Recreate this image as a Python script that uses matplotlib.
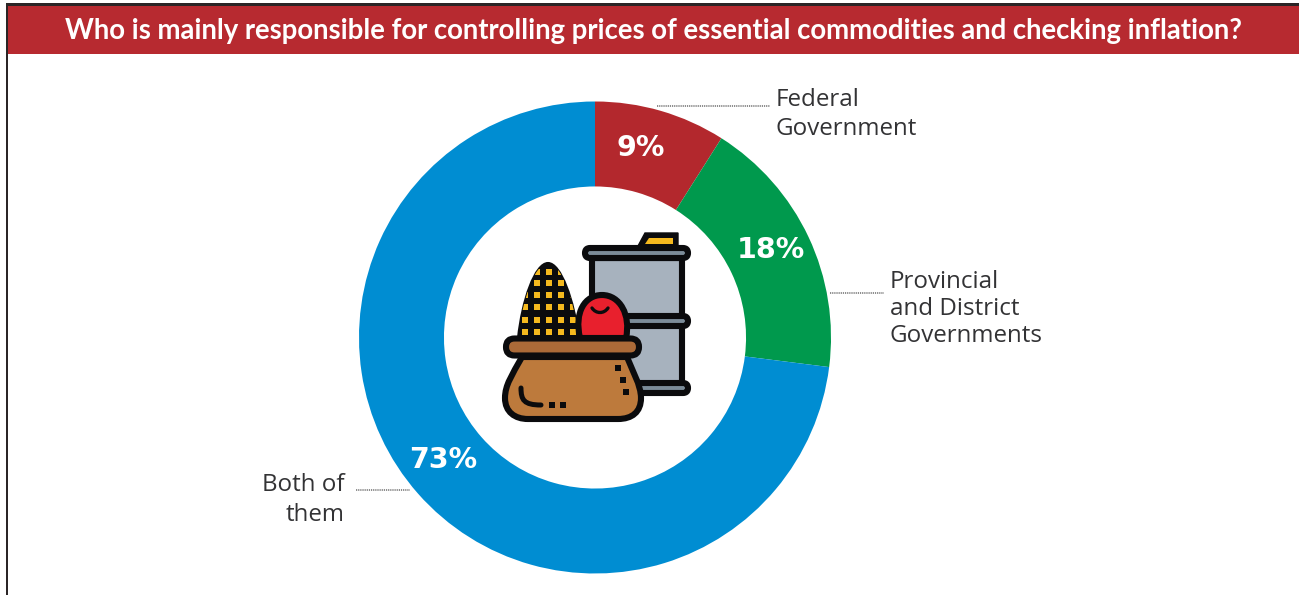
import matplotlib
matplotlib.use("Agg")
import matplotlib.pyplot as plt
from matplotlib.patches import Rectangle, FancyBboxPatch, PathPatch, Polygon
from matplotlib.path import Path

title = "Who is mainly responsible for controlling prices of essential commodities and checking inflation?"
shares = [9, 18, 73]
colors = ["#B3282D", "#00994D", "#008DD2"]
value_labels = ["9%", "18%", "73%"]
names = ["Federal\nGovernment", "Provincial\nand District\nGovernments", "Both of\nthem"]

W, H = 1299, 595
fig = plt.figure(figsize=(W/100, H/100), dpi=100, facecolor="white")

# donut
ax = fig.add_axes([359/W, (H-573.5)/H, 472/W, 472/H])
ax.pie(shares, colors=colors, startangle=90, counterclock=False, radius=1,
       wedgeprops=dict(width=0.36, linewidth=0))
ax.set_xlim(-1, 1)
ax.set_ylim(-1, 1)

# everything else is laid out in pixels, y going down
px = fig.add_axes([0, 0, 1, 1], facecolor="none")
px.set_xlim(0, W)
px.set_ylim(H, 0)
px.axis("off")

# header band and frame
px.add_patch(Rectangle((8, 6), W-8, 47.5, fc="#B72A30", ec="none"))
px.add_patch(Rectangle((6, 3), W-6, 2.5, fc="#2b2526", ec="none"))
px.add_patch(Rectangle((6, 3), 2.3, H-3, fc="#2b2526", ec="none"))
px.text(654, 30.5, title, color="white", fontsize=19.8, fontweight="bold",
        family="Lato", ha="center", va="center")

# percentages on the ring
pct_pos = [(641, 148.5), (771, 250.5), (443, 459.5)]
for lab, (x, y) in zip(value_labels, pct_pos):
    px.text(x, y, lab, color="white", fontsize=20.5, fontweight="bold",
            family="DejaVu Sans", ha="center", va="center")

# leader lines
for x0, x1, y in [(657, 770, 105.5), (830, 884, 293), (356, 410, 489.5)]:
    px.plot([x0, x1], [y, y], color="#6e6e6e", lw=1.1, ls=(0, (0.8, 0.6)))

# outer labels
txt = dict(color="#333335", fontsize=17.4, family="Open Sans", va="center")
px.text(776, 114.5, names[0], ha="left", linespacing=1.3, **txt)
px.text(890, 309, names[1], ha="left", linespacing=1.19, **txt)
px.text(345, 500, names[2], ha="right", linespacing=1.3, **txt)

# --- centre icon: barrel behind a basket of corn and apple ---
blk = "#0b0b0d"
lw = 4.4
yellow = "#F5B91E"
C4 = Path.CURVE4

def rim(x, y, w, h, fc):
    px.add_patch(FancyBboxPatch((x, y), w, h, boxstyle="round,pad=0,rounding_size=%g" % (h/2),
                                fc=fc, ec=blk, lw=lw, joinstyle="round", mutation_aspect=1))

# barrel
px.add_patch(Polygon([(638, 246), (645, 233), (678, 233), (678, 246)], fc=blk, ec=blk, lw=1))
px.add_patch(Polygon([(645, 244), (649, 238), (673, 238), (673, 244)], fc=yellow, ec="none"))
px.add_patch(Rectangle((592, 258), 90, 128, fc="#A7B2BE", ec=blk, lw=lw))
rim(585, 248, 103, 10, "#7C8C99")
rim(600, 316, 88, 10, "#7C8C99")
rim(600, 383, 88, 10, "#7C8C99")

# corn
corn = Path([(518, 338), (522, 300), (535, 263), (548, 263), (561, 263), (574, 300), (579, 338), (518, 338)],
            [Path.MOVETO, C4, C4, C4, C4, C4, C4, Path.CLOSEPOLY])
corn_patch = px.add_patch(PathPatch(corn, fc=blk, ec=blk, lw=1.5))
grid_x = [525, 537, 549, 561, 573]
grid_y = [272, 283, 295, 307, 320, 332]
for y in grid_y:
    for x in grid_x:
        sq = px.add_patch(Rectangle((x-3.2, y-3.2), 6.4, 6.4, fc=yellow, ec="none"))
        sq.set_clip_path(corn_patch)

# apple
apple = Path([(580, 338), (574, 312), (585, 295), (602, 295), (620, 295), (631, 315), (626, 338), (580, 338)],
             [Path.MOVETO, C4, C4, C4, C4, C4, C4, Path.CLOSEPOLY])
px.add_patch(PathPatch(apple, fc="#E8202D", ec=blk, lw=lw))
smile = Path([(592, 308), (596, 314), (604, 314), (608, 308)], [Path.MOVETO, C4, C4, C4])
px.add_patch(PathPatch(smile, fc="none", ec=blk, lw=2.4, capstyle="round"))

# basket
body = Path([(522, 357), (512, 375), (505, 385), (505, 398), (505, 412), (515, 419), (528, 419), (618, 419),
             (632, 419), (641, 412), (641, 398), (641, 385), (632, 370), (627, 357), (522, 357)],
            [Path.MOVETO, C4, C4, C4, C4, C4, C4, Path.LINETO,
             C4, C4, C4, C4, C4, C4, Path.CLOSEPOLY])
px.add_patch(PathPatch(body, fc="#BD7A3C", ec=blk, lw=lw, joinstyle="round"))
rim(506, 338.5, 133, 17, "#AB6A38")
hook = Path([(521, 388), (521, 400), (524, 405), (541, 405)], [Path.MOVETO, C4, C4, C4])
px.add_patch(PathPatch(hook, fc="none", ec=blk, lw=3.6, capstyle="round"))
for x, y in [(552, 405), (563, 405), (618, 368), (623, 380), (626, 392)]:
    px.add_patch(Rectangle((x-3.3, y-3.3), 6.6, 6.6, fc=blk, ec="none"))

fig.savefig("out.png", dpi=100)
